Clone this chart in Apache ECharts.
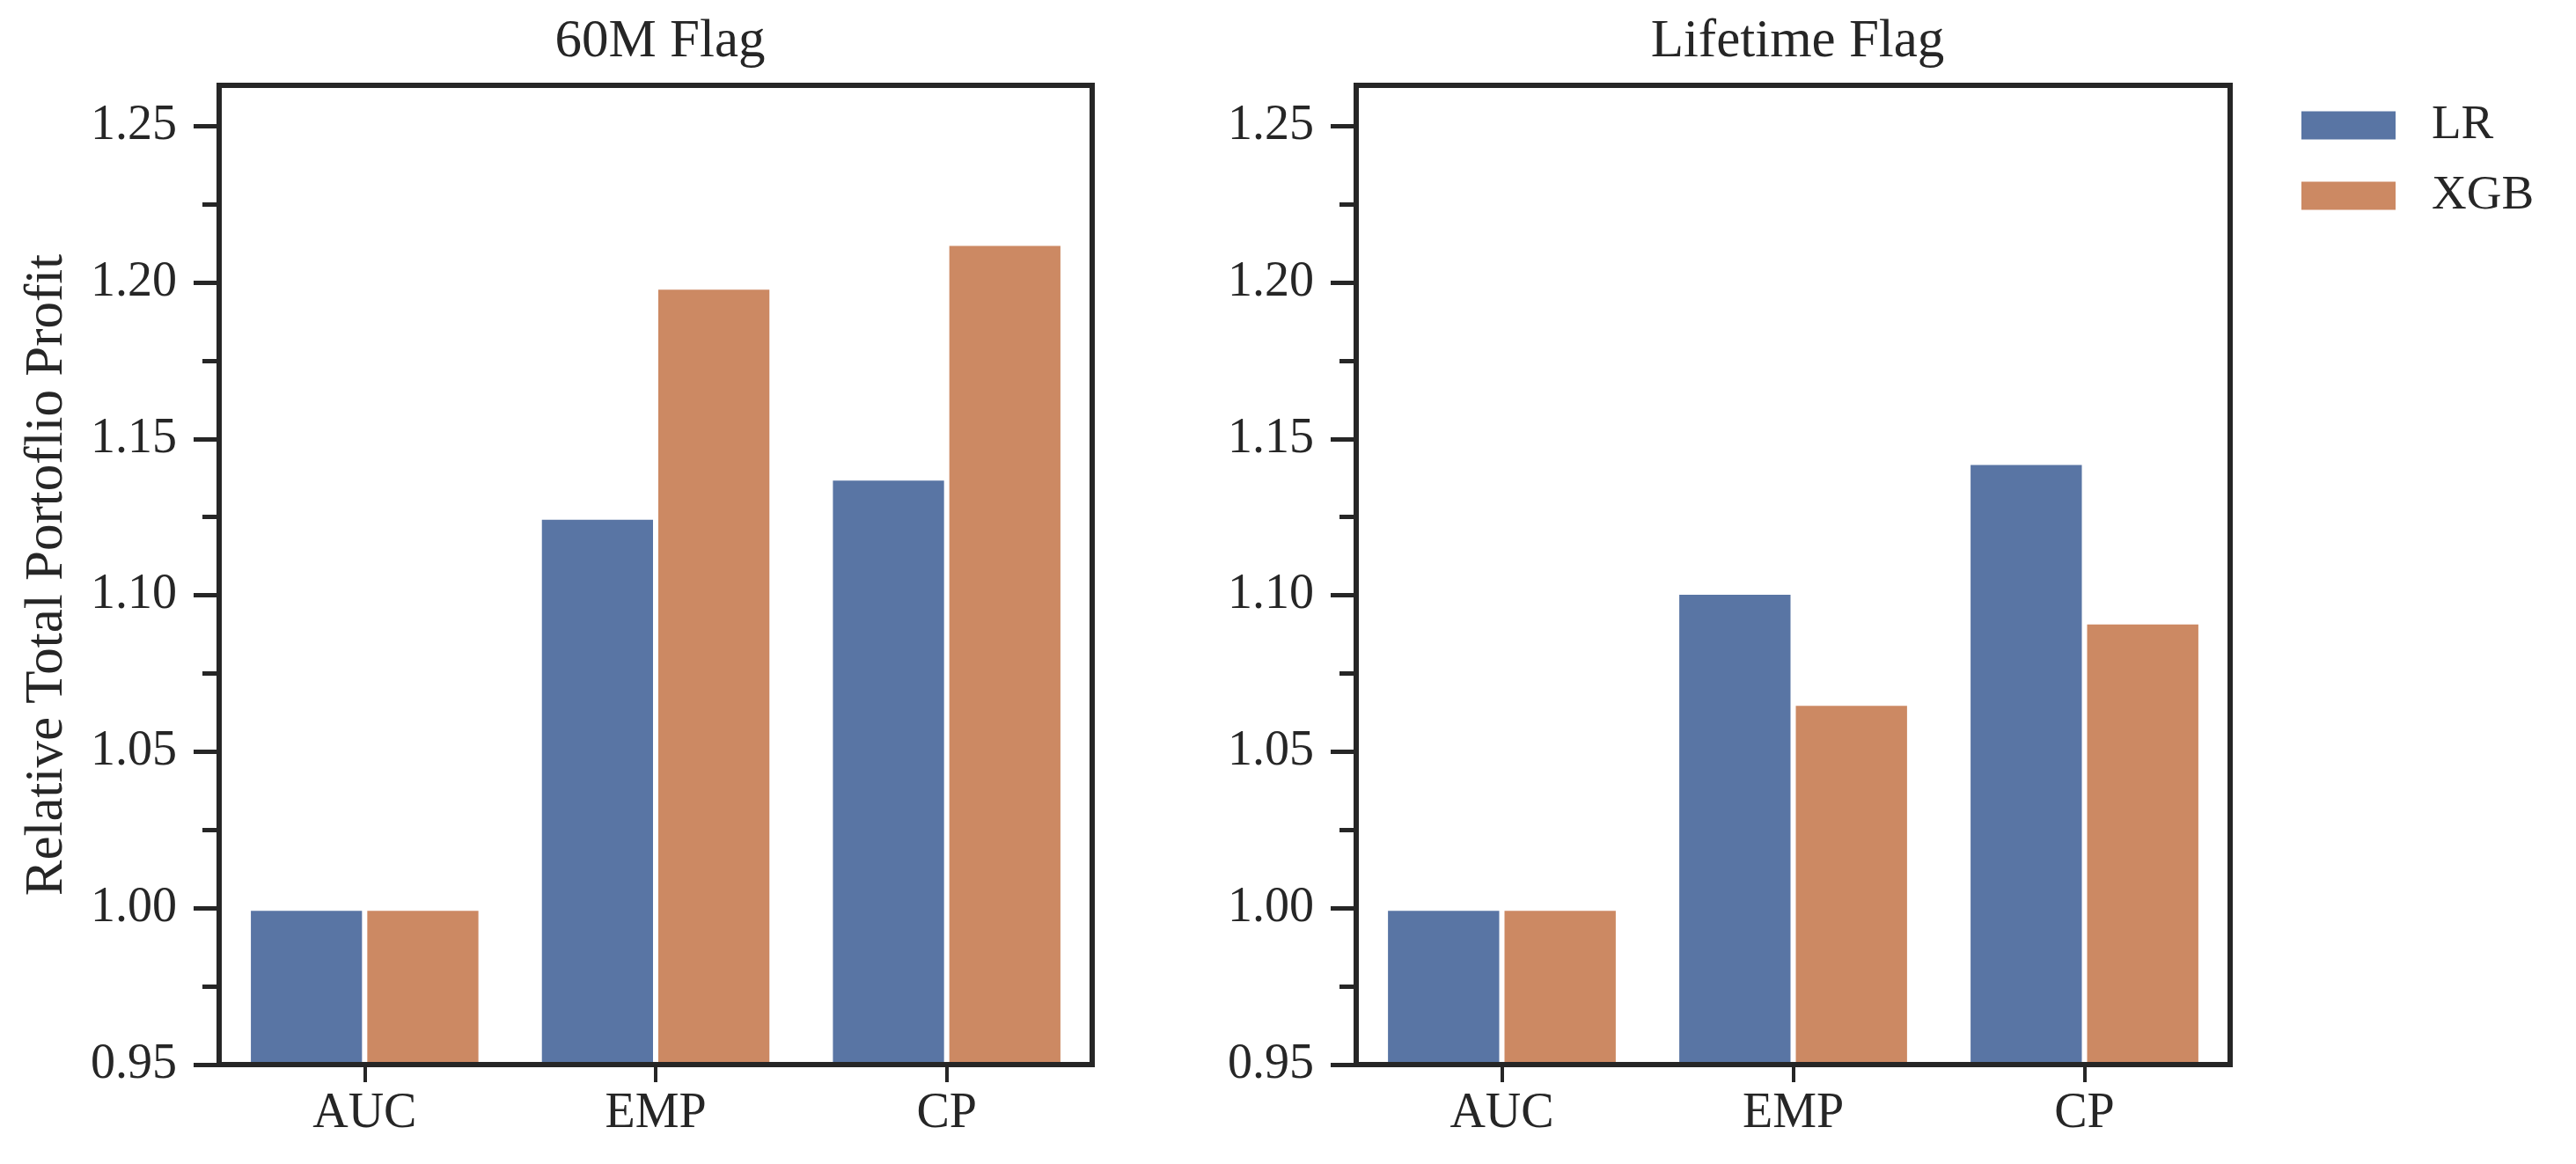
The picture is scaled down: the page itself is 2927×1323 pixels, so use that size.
<!DOCTYPE html>
<html>
<head>
<meta charset="utf-8">
<script src="https://cdn.jsdelivr.net/npm/echarts@6/dist/echarts.min.js"></script>
<style>
html,body{margin:0;padding:0;background:#fff;}
#chart{width:2927px;height:1323px;}
</style>
</head>
<body>
<div id="chart"></div>
<script>
// ---- data ----
var categories = ['AUC', 'EMP', 'CP'];
var seriesNames = ['LR', 'XGB'];
var panelTitles = ['60M Flag', 'Lifetime Flag'];
var lr60 = [1.000, 1.125, 1.1375];
var xgb60 = [1.000, 1.1985, 1.2125];
var lrLife = [1.000, 1.101, 1.1425];
var xgbLife = [1.000, 1.0655, 1.0915];
var majorTicks = [0.95, 1.00, 1.05, 1.10, 1.15, 1.20, 1.25];
var minorTicks = [0.975, 1.025, 1.075, 1.125, 1.175, 1.225];
var yLabel = 'Relative Total Portoflio Profit';

var FONT = 'Liberation Serif';
var TXT = '#262626';
var colors = ['#5975A4', '#CC8963'];
var yMin = 0.95, yMax = 1.263;

var grids = [
  {left: 249, top: 97, width: 992, height: 1113},
  {left: 1541, top: 97, width: 993, height: 1113}
];

var option = {
  animation: false,
  backgroundColor: '#fff',
  title: panelTitles.map(function (t, i) {
    return {
      text: t,
      left: grids[i].left + grids[i].width / 2,
      textAlign: 'center',
      top: 12,
      textStyle: {fontFamily: FONT, fontSize: 61, fontWeight: 'normal', color: TXT}
    };
  }),
  legend: {
    data: seriesNames,
    orient: 'vertical',
    left: 2608,
    top: 110,
    itemWidth: 109,
    itemHeight: 34,
    itemGap: 25,
    icon: 'rect',
    textStyle: {fontFamily: FONT, fontSize: 55, color: TXT, padding: [0, 0, 0, 35]}
  },
  grid: grids.map(function (g) {
    return {left: g.left, top: g.top, width: g.width, height: g.height,
      show: true, borderWidth: 6, borderColor: TXT, backgroundColor: 'transparent'};
  }),
  xAxis: grids.map(function (g, i) {
    return {
      type: 'category', gridIndex: i, data: categories, z: 10,
      axisLine: {show: true, lineStyle: {color: TXT, width: 6}},
      axisTick: {show: true, alignWithLabel: true, length: 20, lineStyle: {color: TXT, width: 4}},
      axisLabel: {fontFamily: FONT, fontSize: 56, color: TXT, margin: 28},
      splitLine: {show: false}
    };
  }),
  yAxis: [],
  series: []
};

grids.forEach(function (g, i) {
  option.yAxis.push({
    type: 'value', gridIndex: i, position: 'left', min: yMin, max: yMax, interval: 0.05, z: 10,
    name: i === 0 ? yLabel : '',
    nameLocation: 'middle', nameGap: 165, nameRotate: 90,
    nameTextStyle: {fontFamily: FONT, fontSize: 61, color: TXT},
    axisLine: {show: true, lineStyle: {color: TXT, width: 6}},
    axisTick: {show: true, customValues: majorTicks, length: 29, lineStyle: {color: TXT, width: 5}},
    axisLabel: {customValues: majorTicks, fontFamily: FONT, fontSize: 56, color: TXT, margin: 48,
      formatter: function (v) { return Number(v).toFixed(2); }},
    splitLine: {show: false}
  });
});
grids.forEach(function (g, i) {
  option.yAxis.push({
    type: 'value', gridIndex: i, position: 'left', offset: 0, min: yMin, max: yMax, interval: 0.05, z: 10,
    axisLine: {show: false},
    axisTick: {show: true, customValues: minorTicks, length: 19, lineStyle: {color: TXT, width: 5}},
    axisLabel: {show: false},
    splitLine: {show: false}
  });
});

var panelData = [[lr60, xgb60], [lrLife, xgbLife]];
panelData.forEach(function (pd, i) {
  pd.forEach(function (vals, s) {
    option.series.push({
      type: 'bar', name: seriesNames[s], xAxisIndex: i, yAxisIndex: i,
      data: vals, barWidth: '40%', barGap: '0%',
      itemStyle: {color: colors[s], borderColor: '#fff', borderWidth: 3}
    });
  });
});

var chart = echarts.init(document.getElementById('chart'), null, {renderer: 'canvas'});
chart.setOption(option);
</script>
</body>
</html>
